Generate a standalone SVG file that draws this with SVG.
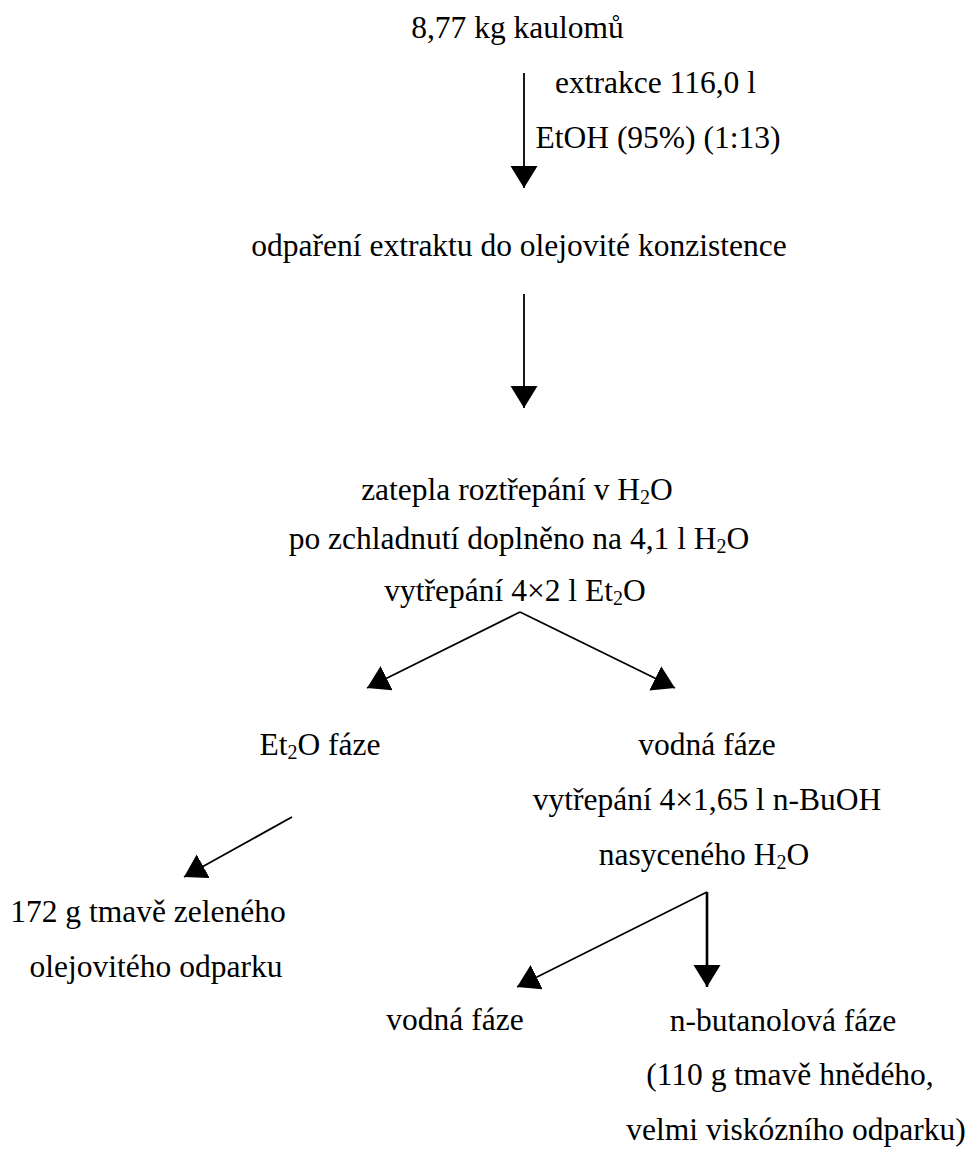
<svg xmlns="http://www.w3.org/2000/svg" width="973" height="1151" viewBox="0 0 973 1151" font-family="Liberation Serif, serif">
<defs>
<style>
text{font-family:'Liberation Serif',serif;font-size:31.5px;fill:#000;text-anchor:middle}
.sub{font-size:20px}
.c{stroke:#000;stroke-width:1.8;fill:none;marker-end:url(#ah)}
.thick{stroke-width:2.6}
</style>
<marker id="ah" markerUnits="userSpaceOnUse" markerWidth="24" markerHeight="28" refX="22" refY="13.5" orient="auto" viewBox="0 0 24 28">
<path d="M0,0 L22,13.5 L0,27 Z" fill="#000"/>
</marker>
</defs>
<rect width="973" height="1151" fill="#fff"/>
<g id="connectors">
<line class="c" x1="524" y1="73" x2="524" y2="188"/>
<line class="c" x1="524" y1="294" x2="524" y2="408"/>
<line class="c" x1="520" y1="612" x2="367" y2="688"/>
<line class="c" x1="520" y1="612" x2="675" y2="688"/>
<line class="c" x1="292" y1="817" x2="184" y2="877"/>
<line class="c" x1="707" y1="892" x2="517" y2="987"/>
<line class="c thick" x1="707" y1="892" x2="707" y2="987"/>
</g>
<g id="n1"><text x="517.5" y="38">8,77 kg kaulomů</text></g>
<g id="lbl1">
<text x="655.5" y="93">extrakce 116,0 l</text>
<text x="658" y="148">EtOH (95%) (1:13)</text>
</g>
<g id="n2"><text x="519" y="256">odpaření extraktu do olejovité konzistence</text></g>
<g id="n3">
<text x="517" y="500">zatepla roztřepání v H<tspan class="sub" dy="4">2</tspan><tspan dy="-4">O</tspan></text>
<text x="519" y="549">po zchladnutí doplněno na 4,1 l H<tspan class="sub" dy="4">2</tspan><tspan dy="-4">O</tspan></text>
<text x="515" y="601">vytřepání 4×2 l Et<tspan class="sub" dy="4">2</tspan><tspan dy="-4">O</tspan></text>
</g>
<g id="n4"><text x="320" y="755">Et<tspan class="sub" dy="4">2</tspan><tspan dy="-4">O fáze</tspan></text></g>
<g id="n5">
<text x="707" y="755">vodná fáze</text>
<text x="707" y="810">vytřepání 4×1,65 l n-BuOH</text>
<text x="704" y="865">nasyceného H<tspan class="sub" dy="4">2</tspan><tspan dy="-4">O</tspan></text>
</g>
<g id="n6">
<text x="148" y="922">172 g tmavě zeleného</text>
<text x="156" y="977">olejovitého odparku</text>
</g>
<g id="n7"><text x="455" y="1030">vodná fáze</text></g>
<g id="n8">
<text x="783" y="1031">n-butanolová fáze</text>
<text x="790" y="1085">(110 g tmavě hnědého,</text>
<text x="796" y="1140">velmi viskózního odparku)</text>
</g>
</svg>
